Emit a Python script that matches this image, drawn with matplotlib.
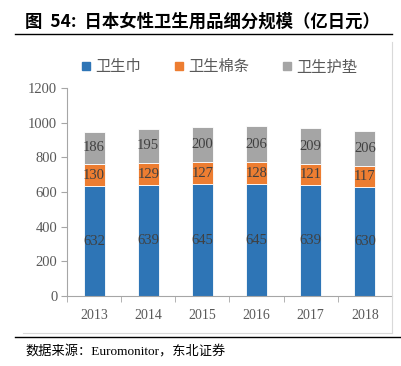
import numpy as np
import matplotlib.pyplot as plt
from matplotlib.lines import Line2D

plt.rcParams['font.family'] = ['Liberation Serif', 'Noto Sans CJK SC']

years = ['2013', '2014', '2015', '2016', '2017', '2018']
pads = [632, 639, 645, 645, 639, 630]        # 卫生巾
tampons = [130, 129, 127, 128, 121, 117]     # 卫生棉条
liners = [186, 195, 200, 206, 209, 206]      # 卫生护垫
names = ['卫生巾', '卫生棉条', '卫生护垫']
colors = ['#2E75B6', '#ED7D31', '#A5A5A5']

fig = plt.figure(figsize=(4.02, 3.66), dpi=100)
ax = fig.add_axes([0.1667, 0.191, 0.8083, 0.569])

x = np.arange(len(years))
bottom = np.zeros(len(years))
for vals, c in zip([pads, tampons, liners], colors):
    vals = np.array(vals)
    ax.bar(x, vals, 0.39, bottom=bottom, color=c, edgecolor='white', linewidth=0.6)
    for xi, b, v in zip(x, bottom, vals):
        ax.text(xi, b + v / 2, str(v), ha='center', va='center', fontsize=10.5, color='#404040')
    bottom += vals

ax.set_xlim(-0.5, len(years) - 0.5)
ax.set_ylim(0, 1200)
ax.set_yticks(range(0, 1201, 200))
ax.set_xticks(x)
ax.set_xticklabels(years)
ax.set_xticks(np.arange(-0.5, len(years), 1), minor=True)
ax.tick_params(axis='x', which='major', length=0, pad=9, labelsize=10, labelcolor='#595959')
ax.tick_params(axis='x', which='minor', length=4, color='#A6A6A6', direction='out')
ax.tick_params(axis='y', length=4, color='#A6A6A6', labelsize=10.5, labelcolor='#595959', pad=3)
for s in ['top', 'right']:
    ax.spines[s].set_visible(False)
for s in ['left', 'bottom']:
    ax.spines[s].set_color('#A6A6A6')
    ax.spines[s].set_linewidth(0.8)

handles = [Line2D([], [], marker='s', linestyle='', color=c, markersize=5.5) for c in colors]
leg = fig.legend(handles, names, loc='center', bbox_to_anchor=(0.54, 0.817), ncol=3,
                 frameon=False, handletextpad=0.0, columnspacing=1.9, handlelength=1.2,
                 prop={'family': 'Noto Sans CJK SC', 'size': 11})
for t in leg.get_texts():
    t.set_color('#595959')

# chart frame (right and bottom)
fig.add_artist(Line2D([392 / 402, 392 / 402], [1 - 42 / 366, 1 - 333 / 366], color='#D9D9D9', lw=0.8))
fig.add_artist(Line2D([23 / 402, 392 / 402], [1 - 333 / 366, 1 - 333 / 366], color='#D9D9D9', lw=0.8))

# title and separator lines
fig.text(25 / 402, 1 - 22 / 366, '图  54:  日本女性卫生用品细分规模（亿日元）', fontsize=12.5,
         fontweight='bold', va='center', ha='left', family=['Noto Sans CJK SC'])
fig.add_artist(Line2D([15 / 402, 392 / 402], [1 - 34 / 366, 1 - 34 / 366], color='black', lw=1.0))
fig.add_artist(Line2D([15 / 402, 1.0], [1 - 337 / 366, 1 - 337 / 366], color='black', lw=1.0))
fig.text(25 / 402, 1 - 352 / 366, '数据来源：Euromonitor，东北证券', fontsize=9.5, va='center', ha='left')

fig.savefig('out.png', dpi=100)
